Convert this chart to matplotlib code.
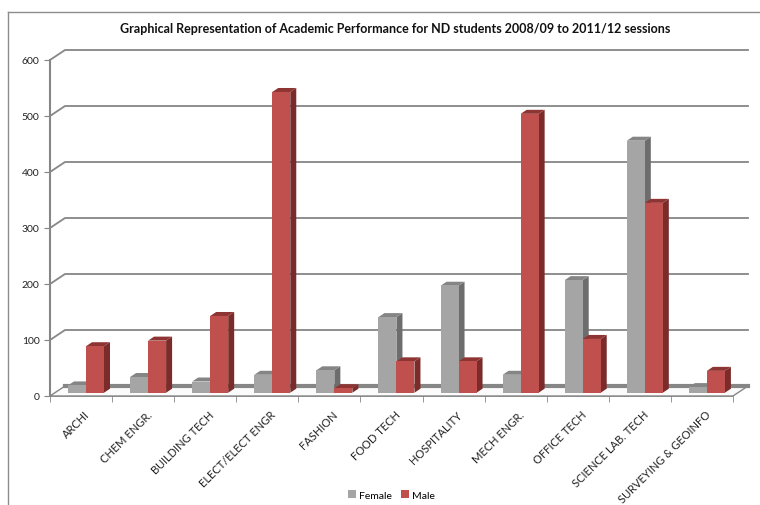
import matplotlib.pyplot as plt
import matplotlib.transforms as mtransforms
from matplotlib.patches import Polygon
from matplotlib.lines import Line2D
import numpy as np

courses = ['ARCHI', 'CHEM ENGR.', 'BUILDING TECH', 'ELECT/ELECT ENGR', 'FASHION',
           'FOOD TECH', 'HOSPITALITY', 'MECH ENGR.', 'OFFICE TECH',
           'SCIENCE LAB. TECH', 'SURVEYING & GEOINFO']
female = [13, 28, 20, 32, 40, 135, 191, 32, 201, 450, 10]
male = [83, 93, 137, 537, 8, 56, 56, 498, 96, 339, 39]
yticks = [0, 100, 200, 300, 400, 500, 600]

plt.rcParams['font.family'] = ['Lato', 'DejaVu Sans']

fig = plt.figure(figsize=(7.6, 5.06), dpi=100)
ax = fig.add_axes([50 / 760, 109 / 506, 683 / 760, 336 / 506])
n = len(courses)
ax.set_xlim(0, n)
ax.set_ylim(0, 600)

grey = '#868686'
for s in ['top', 'right']:
    ax.spines[s].set_visible(False)
ax.spines['left'].set_color(grey)
ax.spines['left'].set_linewidth(1.5)
ax.spines['bottom'].set_color(grey)
ax.spines['bottom'].set_linewidth(1.2)

ax.set_yticks(yticks)
ax.tick_params(axis='y', length=4, color=grey, labelsize=7.5, labelcolor='#222222')
ax.set_xticks(np.arange(n) + 0.55)
ax.set_xticklabels(courses, rotation=45, ha='right', rotation_mode='anchor',
                   fontsize=8, color='#222222')
ax.set_xticks(np.arange(n + 1), minor=True)
ax.tick_params(axis='x', which='major', length=0, pad=9)
ax.tick_params(axis='x', which='minor', length=4, color=grey)

# oblique depth: full depth = 15 px right, 10 px up
DX, DY = 15, 10
fig.canvas.draw()
scale = fig.dpi / 100


def pt(x, y, d):
    px, py = ax.transData.transform((x, y))
    return (px + d * DX * scale, py + d * DY * scale)


ident = mtransforms.IdentityTransform()


def poly(points, fc, ec='none', lw=0, z=2):
    p = Polygon(points, closed=True, facecolor=fc, edgecolor=ec, linewidth=lw,
                transform=ident, clip_on=False, zorder=z)
    fig.add_artist(p)


def line(points, color=grey, lw=1.2, z=1):
    xs, ys = zip(*points)
    fig.add_artist(Line2D(xs, ys, color=color, linewidth=lw, transform=ident, zorder=z))


# back wall gridlines and side wall diagonals
for v in yticks[1:]:
    line([pt(0, v, 0), pt(0, v, 1), pt(n, v, 1)], lw=1.3)

# floor slab
poly([pt(0, 0, 0), pt(0, 0, 1), pt(n, 0, 1), pt(n, 0, 0)], '#fbfbfb', grey, 1.0, z=1)
line([pt(0, 0, 1), pt(n, 0, 1)], lw=3, z=1)

# bars: front face, top face, side face
w = 0.29
d0, d1 = 0.33, 0.73
styles = [('#a5a5a5', '#858585', '#6d6d6d'), ('#c0504d', '#8e3432', '#7b2c2a')]
for i in range(n):
    for k, vals in enumerate([female, male]):
        x0 = i + 0.5 - w + k * w
        x1 = x0 + w
        h = vals[i]
        front, top, side = styles[k]
        poly([pt(x1, 0, d0), pt(x1, 0, d1), pt(x1, h, d1), pt(x1, h, d0)], side, z=3)
        poly([pt(x0, h, d0), pt(x0, h, d1), pt(x1, h, d1), pt(x1, h, d0)], top, z=3)
        poly([pt(x0, 0, d0), pt(x1, 0, d0), pt(x1, h, d0), pt(x0, h, d0)], front, z=3)

fig.text(0.52, 1 - 29 / 506,
         'Graphical Representation of Academic Performance for ND students 2008/09 to 2011/12 sessions',
         ha='center', va='center', fontsize=9, fontweight='bold', color='#111111')

handles = [Polygon([[0, 0]], facecolor=styles[0][0]), Polygon([[0, 0]], facecolor=styles[1][0])]
fig.legend(handles, ['Female', 'Male'], loc='center', bbox_to_anchor=(0.515, 1 - 496 / 506),
           ncol=2, frameon=False, fontsize=7.5, handlelength=0.8, handleheight=0.8,
           handletextpad=0.3, columnspacing=0.8)

# chart frame (cut at right and bottom edges)
fig.add_artist(Line2D([7.5 / 760, 1], [1 - 12.5 / 506] * 2, color='#8c8c8c', lw=1,
                      transform=fig.transFigure))
fig.add_artist(Line2D([7.5 / 760] * 2, [0, 1 - 12.5 / 506], color='#8c8c8c', lw=1,
                      transform=fig.transFigure))

fig.savefig('out.png', dpi=100)
